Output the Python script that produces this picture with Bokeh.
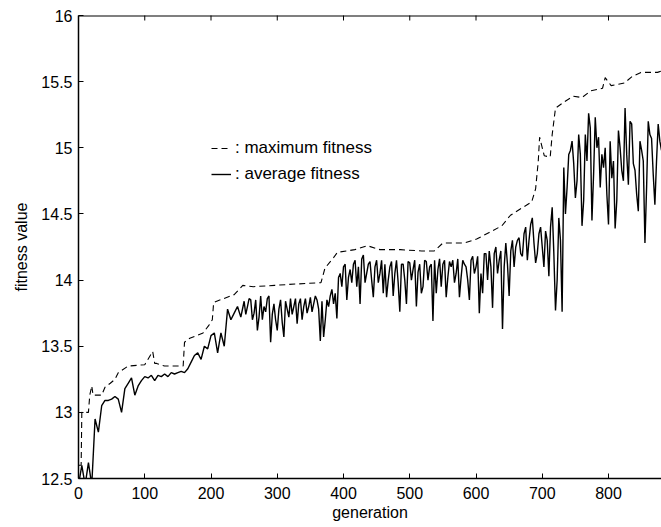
import numpy as np
from bokeh.plotting import figure
from bokeh.models import Range1d, FixedTicker, Legend, LegendItem, Span
from bokeh.embed import file_html
from bokeh.resources import INLINE

# ---- data ----
x_ticks = [0, 100, 200, 300, 400, 500, 600, 700, 800]
y_ticks = [12.5, 13, 13.5, 14, 14.5, 15, 15.5, 16]

max_gen = [0, 4, 5, 15, 17, 20, 22, 35, 40, 48,
           55, 60, 75, 100, 112, 115, 118, 130, 158, 160,
           168, 188, 197, 202, 204, 219, 235, 248, 264, 296,
           327, 366, 372, 385, 391, 417, 436, 455, 486, 518,
           537, 550, 582, 601, 620, 639, 652, 671, 684, 690,
           694, 696, 703, 712, 715, 720, 734, 747, 760, 773,
           791, 795, 804, 824, 836, 849, 874, 880]
max_fit = [12.6, 12.6, 13.0, 13.0, 13.13, 13.2, 13.13, 13.13, 13.19, 13.22,
           13.25, 13.3, 13.35, 13.36, 13.46, 13.37, 13.37, 13.35, 13.35, 13.53,
           13.56, 13.6, 13.66, 13.7, 13.83, 13.86, 13.89, 13.96, 13.95, 13.96,
           13.97, 13.98, 14.09, 14.17, 14.21, 14.23, 14.26, 14.23, 14.23, 14.22,
           14.22, 14.28, 14.28, 14.31, 14.36, 14.41, 14.49, 14.55, 14.59, 14.69,
           14.9, 15.08, 14.94, 14.93, 15.1, 15.3, 15.35, 15.39, 15.38, 15.43,
           15.45, 15.53, 15.47, 15.49, 15.54, 15.57, 15.57, 15.58]

# average fitness every 5 generations
avg_gen = list(range(0, 881, 5))
avg_fit = [12.45, 12.6, 12.45, 12.62, 12.45, 12.95, 12.85, 13.05, 13.09, 13.09,   # 0-45
           13.1, 13.12, 13.1, 13.0, 13.18, 13.22, 13.26, 13.13, 13.2, 13.24,     # 50-95
           13.27, 13.26, 13.28, 13.24, 13.28, 13.27, 13.29, 13.27, 13.3, 13.29,  # 100-145
           13.3, 13.31, 13.3, 13.33, 13.38, 13.43, 13.45, 13.4, 13.5, 13.48,     # 150-195
           13.58, 13.6, 13.45, 13.6, 13.5, 13.78, 13.7, 13.75, 13.8, 13.72,      # 200-245
           13.84, 13.8, 13.85, 13.75, 13.62, 13.88, 13.8, 13.86, 13.53, 13.82,   # 250-295
           13.62, 13.85, 13.57, 13.78, 13.86, 13.8, 13.67, 13.86, 13.8, 13.75,   # 300-345
           13.87, 13.82, 13.85, 13.54, 13.57, 13.85, 13.88, 13.82, 13.71, 14.05, # 350-395
           14.1, 13.85, 14.08, 14.12, 13.95, 13.82, 14.19, 14.05, 14.14, 13.87,  # 400-445
           14.15, 14.05, 13.9, 13.87, 14.1, 13.88, 14.15, 13.76, 14.12, 13.82,   # 450-495
           14.13, 14.08, 13.8, 14.12, 13.95, 14.14, 14.1, 13.69, 13.9, 14.16,    # 500-545
           14.12, 13.87, 14.14, 14.15, 14.05, 13.87, 14.15, 14.1, 13.85, 14.18,  # 550-595
           14.1, 13.75, 13.9, 14.2, 14.22, 13.79, 14.25, 14.15, 13.63, 14.28,    # 600-645
           13.88, 14.3, 14.25, 14.32, 14.18, 14.4, 14.3, 14.47, 14.13, 14.35,    # 650-695
           14.25, 14.37, 14.03, 14.55, 13.77, 14.47, 13.76, 14.5, 14.95, 15.05,  # 700-745
           14.62, 15.1, 14.41, 15.1, 15.26, 14.45, 15.23, 15.08, 14.95, 15.0,    # 750-795
           14.42, 14.77, 14.39, 15.13, 14.83, 15.3, 14.72, 15.18, 14.83, 14.52,  # 800-845
           14.98, 14.28, 15.2, 15.07, 14.57, 15.18, 14.98]                      # 850-880

# extra in-between readings of the dense noisy band (generations 252.5 ... 877.5)
mid_gen = [252.5 + 5 * i for i in range(126)]
mid_fit = [13.74, 13.86, 13.7, 13.85, 13.72, 13.7, 13.76, 13.88, 13.74, 13.7,     # 252.5-297.5
           13.78, 13.68, 13.84, 13.72, 13.74, 13.86, 13.82, 13.7, 13.86, 13.8,    # 302.5-347.5
           13.76, 13.88, 13.78, 13.84,                                             # 352.5-367.5
           13.7, 13.8, 13.93, 13.9, 14.02, 13.95,                                  # 372.5-397.5
           14.12, 14.02, 13.98, 14.15, 14.1, 14.16, 13.98, 14.12, 14.0, 14.1,     # 402.5-447.5
           13.98, 14.15, 14.12, 14.0, 14.14, 14.05, 13.98, 14.12, 14.0, 14.14,    # 452.5-497.5
           14.0, 14.15, 14.06, 13.9, 14.15, 14.0, 14.12, 14.15, 14.08, 13.95,     # 502.5-547.5
           14.15, 14.02, 14.1, 13.98, 14.16, 14.02, 14.12, 14.0, 14.15, 14.05,    # 552.5-597.5
           14.18, 14.05, 14.2, 14.0, 14.1, 14.2, 14.05, 14.22, 14.1, 14.12,       # 602.5-647.5
           14.22, 14.1, 14.3, 14.2, 14.35, 14.15, 14.42, 14.28, 14.2, 14.4,       # 652.5-697.5
           14.1, 14.3, 14.4, 14.2, 14.0, 14.3,                                     # 702.5-727.5
           14.85, 14.7, 14.98, 14.88, 14.75, 14.95, 14.6, 14.9, 15.15, 14.8,      # 732.5-777.5
           15.0, 14.7, 14.85, 14.65, 15.05, 14.9, 14.6, 15.0, 14.75, 14.95,       # 782.5-827.5
           15.2, 14.88, 14.65, 15.05, 14.9, 14.7, 15.1, 14.8, 14.9, 15.05]        # 832.5-877.5

# merge the two sets of readings in generation order
order = np.argsort(np.array(avg_gen + mid_gen, dtype=float), kind="stable")
all_gen = np.array(avg_gen + mid_gen, dtype=float)[order]
all_fit = np.array(avg_fit + mid_fit, dtype=float)[order]

FONT = "Liberation Sans"

p = figure(width=661, height=527, output_backend="svg", toolbar_location=None,
           x_range=Range1d(0, 880), y_range=Range1d(12.5, 16),
           min_border_left=78, min_border_right=0, min_border_top=15,
           min_border_bottom=49, x_axis_label="generation",
           y_axis_label="fitness value")
p.outline_line_color = None
p.xgrid.visible = False
p.ygrid.visible = False
p.background_fill_color = "white"
p.border_fill_color = "white"

r_max = p.line(max_gen, max_fit, line_color="black", line_width=1.1, line_dash="6 4")
r_avg = p.line(all_gen, all_fit, line_color="black", line_width=1.4)

for ax in p.xaxis + p.yaxis:
    ax.major_tick_in = 5
    ax.major_tick_out = 0
    ax.minor_tick_in = 0
    ax.minor_tick_out = 0
    ax.axis_line_color = "black"
    ax.axis_line_width = 1.5
    ax.major_tick_line_color = "black"
    ax.major_label_text_font = FONT
    ax.major_label_text_font_size = "16px"
    ax.major_label_text_color = "black"
    ax.axis_label_text_font = FONT
    ax.axis_label_text_font_size = "16px"
    ax.axis_label_text_font_style = "normal"
    ax.axis_label_text_color = "black"

p.xaxis.ticker = FixedTicker(ticks=x_ticks)
p.yaxis.ticker = FixedTicker(ticks=y_ticks)
p.xaxis.major_label_standoff = 8
p.xaxis.axis_label_standoff = 2
p.yaxis.major_label_standoff = 6
p.yaxis.axis_label_standoff = 8
p.yaxis.major_label_overrides = {12.5: "12.5", 13: "13", 13.5: "13.5", 14: "14",
                                 14.5: "14.5", 15: "15", 15.5: "15.5", 16: "16"}

# top border of the box with inward ticks (the right border is cut off in the reference)
p.add_layout(Span(location=16, dimension="width", line_color="black", line_width=2))
p.scatter(x_ticks, [16] * len(x_ticks), marker="dash", angle=np.pi / 2, size=10,
          line_color="black", line_width=1)

legend = Legend(items=[LegendItem(label=": maximum fitness", renderers=[r_max]),
                       LegendItem(label=": average fitness", renderers=[r_avg])],
                location=(133, 294), padding=0, margin=0, spacing=6,
                label_height=20, glyph_height=20, glyph_width=20, label_standoff=4,
                border_line_color=None, background_fill_alpha=0,
                label_text_font=FONT, label_text_font_size="17px",
                label_text_color="black")
p.add_layout(legend, "center")

open("out.html", "w").write(file_html(p, INLINE))
